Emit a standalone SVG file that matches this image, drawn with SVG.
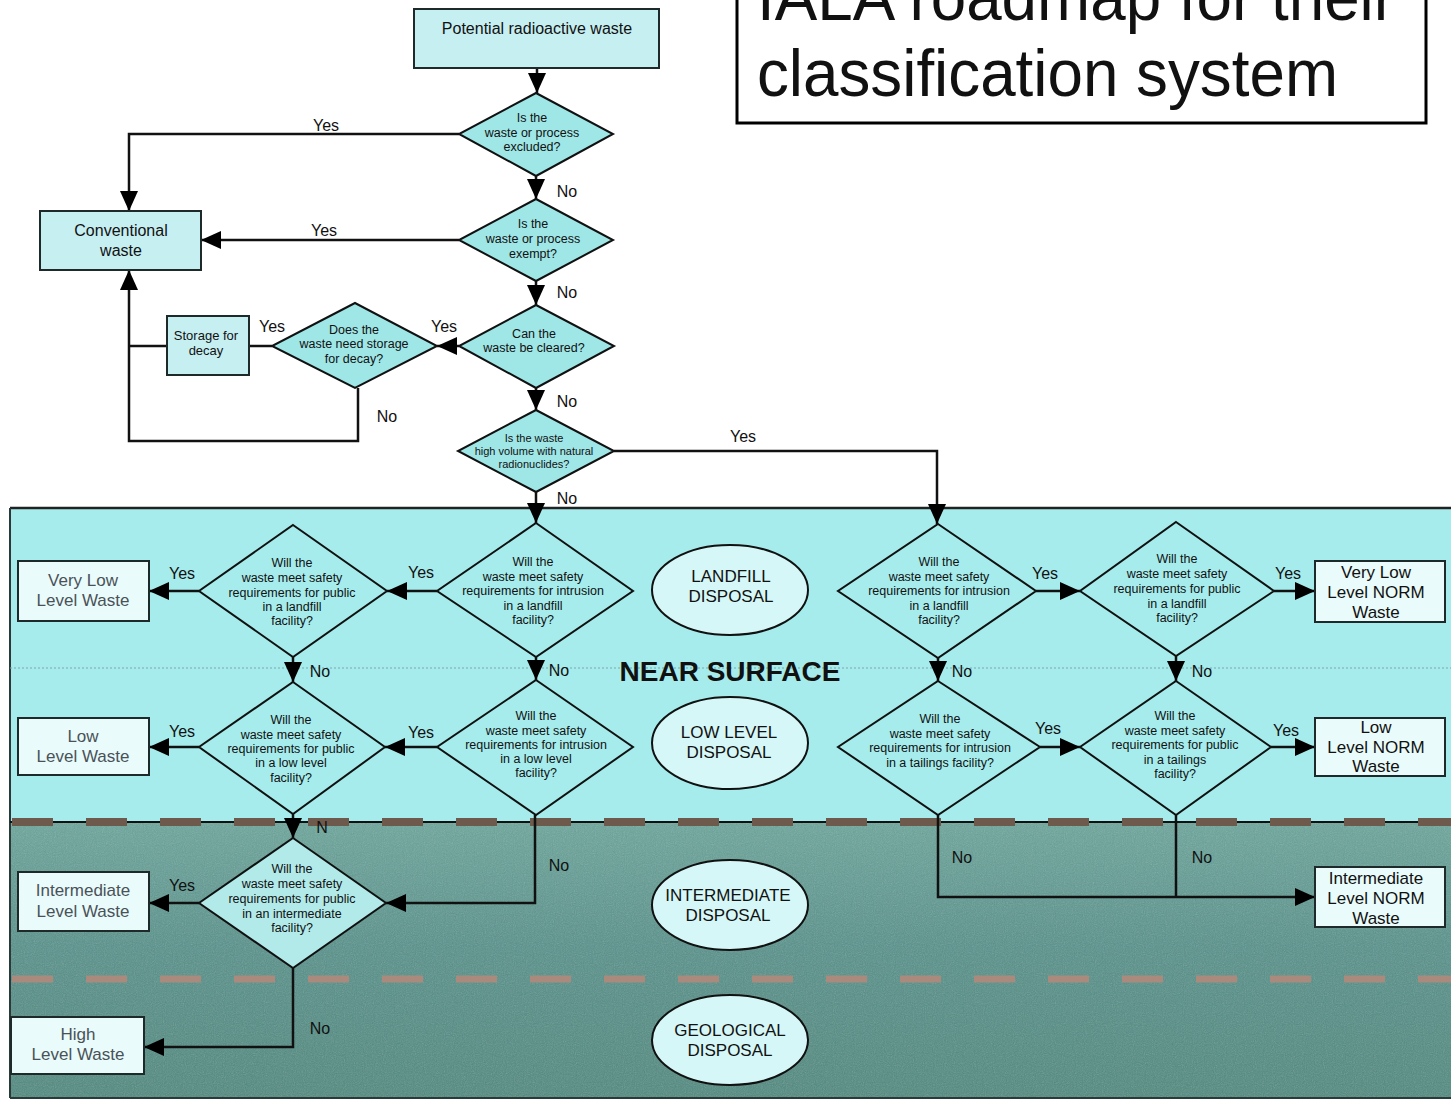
<svg xmlns="http://www.w3.org/2000/svg" width="1451" height="1102" viewBox="0 0 1451 1102">
  <style>
    .box { fill: #c6eff1; stroke: #1e2a2a; stroke-width: 2; }
    .obox { fill: #e9fbfb; stroke: #1e2a2a; stroke-width: 2; }
    .dia { fill: #9fe6e6; stroke: #111; stroke-width: 2; }
    .bdia { fill: none; stroke: #111; stroke-width: 2; }
    .ell { fill: #d6f7f7; stroke: #111; stroke-width: 2; }
    .conn path, .conn line { fill: none; stroke: #111; stroke-width: 2.5; }
    text { font-family: "Liberation Sans", Arial, sans-serif; fill: #111; }
    .q { font-size: 12.5px; text-anchor: middle; }
    .qs { font-size: 11px; text-anchor: middle; }
    .bt { font-size: 16px; text-anchor: middle; }
    .big { font-size: 17px; text-anchor: middle; }
    .grey { fill: #4a5258; }
    .lbl { font-size: 16px; text-anchor: middle; }
  </style>
  <defs>
    <marker id="ah" viewBox="0 0 20 18" refX="20" refY="9" markerWidth="20" markerHeight="18" orient="auto" markerUnits="userSpaceOnUse">
      <path d="M0,0 L20,9 L0,18 z" fill="#000"/>
    </marker>
    <linearGradient id="deep" x1="0" y1="0" x2="0" y2="1">
      <stop offset="0" stop-color="#6aa69b"/>
      <stop offset="0.45" stop-color="#56918a"/>
      <stop offset="1" stop-color="#4f897e"/>
    </linearGradient>
    <filter id="grain" x="0" y="0" width="100%" height="100%">
      <feTurbulence type="fractalNoise" baseFrequency="0.9" numOctaves="2" seed="3" result="n"/>
      <feColorMatrix type="saturate" values="0"/>
      <feComponentTransfer><feFuncA type="linear" slope="0.3"/></feComponentTransfer>
      <feComposite in2="SourceGraphic" operator="in"/>
    </filter>
  </defs>

  <rect width="1451" height="1102" fill="#fff"/>

  <!-- disposal bands -->
  <g id="bands">
    <rect x="10" y="508" width="1441" height="314" fill="#a6ecec"/>
    <rect x="10" y="822" width="1441" height="276" fill="url(#deep)"/>
    <rect x="10" y="822" width="1441" height="276" fill="#fff" filter="url(#grain)"/>
    <line x1="10" y1="508" x2="1451" y2="508" stroke="#222" stroke-width="2.5"/>
    <line x1="10" y1="508" x2="10" y2="1098" stroke="#2a3a38" stroke-width="2"/>
    <line x1="10" y1="1098" x2="1451" y2="1098" stroke="#2a3a38" stroke-width="2"/>
    <line x1="10" y1="668" x2="1451" y2="668" stroke="#7aa8a8" stroke-width="1" stroke-dasharray="2 2"/>
    <line x1="10" y1="822" x2="1451" y2="822" stroke="#111" stroke-width="2"/>
    <line x1="12" y1="822" x2="1451" y2="822" stroke="#6e5a4c" stroke-width="8" stroke-dasharray="41 33"/>
    <line x1="12" y1="979" x2="1451" y2="979" stroke="#a98a7c" stroke-width="7" stroke-dasharray="41 33"/>
    <text x="730" y="681" style="font-size:28px;font-weight:bold;text-anchor:middle">NEAR SURFACE</text>
  </g>

  <!-- heading -->
  <g id="title">
    <rect x="737" y="-10" width="689" height="133" fill="#fff" stroke="#000" stroke-width="3"/>
    <text x="757" y="20" style="font-size:66px" textLength="638" lengthAdjust="spacingAndGlyphs">IALA roadmap for their</text>
    <text x="757" y="96" style="font-size:66px" textLength="581" lengthAdjust="spacingAndGlyphs">classification system</text>
  </g>

  <!-- connectors -->
  <g class="conn">
    <path d="M537,68 V93" marker-end="url(#ah)"/>
    <path d="M459,134 H129 V211" marker-end="url(#ah)"/>
    <path d="M536,176 V199" marker-end="url(#ah)"/>
    <path d="M459,240 H201" marker-end="url(#ah)"/>
    <path d="M536,281 V305" marker-end="url(#ah)"/>
    <path d="M459,346 H437" marker-end="url(#ah)"/>
    <path d="M272,346 H249"/>
    <path d="M167,346 H129"/>
    <path d="M358,388 V441 H129 V270" marker-end="url(#ah)"/>
    <path d="M536,388 V410" marker-end="url(#ah)"/>
    <path d="M614,451 H937 V524" marker-end="url(#ah)"/>
    <path d="M536,492 V523" marker-end="url(#ah)"/>
    <path d="M437,591 H387" marker-end="url(#ah)"/>
    <path d="M199,591 H149" marker-end="url(#ah)"/>
    <path d="M1036,591 H1080" marker-end="url(#ah)"/>
    <path d="M1274,591 H1315" marker-end="url(#ah)"/>
    <path d="M293,657 V682" marker-end="url(#ah)"/>
    <path d="M536,657 V680" marker-end="url(#ah)"/>
    <path d="M938,658 V681" marker-end="url(#ah)"/>
    <path d="M1176,656 V681" marker-end="url(#ah)"/>
    <path d="M437,747 H385" marker-end="url(#ah)"/>
    <path d="M199,747 H149" marker-end="url(#ah)"/>
    <path d="M1040,747 H1080" marker-end="url(#ah)"/>
    <path d="M1271,747 H1315" marker-end="url(#ah)"/>
    <path d="M293,814 V838" marker-end="url(#ah)"/>
    <path d="M535,815 V903 H386" marker-end="url(#ah)"/>
    <path d="M199,903 H149" marker-end="url(#ah)"/>
    <path d="M293,968 V1047 H144" marker-end="url(#ah)"/>
    <path d="M938,815 V897 H1315" marker-end="url(#ah)"/>
    <path d="M1176,815 V897"/>
  </g>

  <!-- connector labels -->
  <g id="labels">
    <text class="lbl" x="326" y="131">Yes</text>
    <text class="lbl" x="324" y="236">Yes</text>
    <text class="lbl" x="567" y="197">No</text>
    <text class="lbl" x="567" y="298">No</text>
    <text class="lbl" x="272" y="332">Yes</text>
    <text class="lbl" x="444" y="332">Yes</text>
    <text class="lbl" x="387" y="422">No</text>
    <text class="lbl" x="567" y="407">No</text>
    <text class="lbl" x="743" y="442">Yes</text>
    <text class="lbl" x="567" y="504">No</text>
    <text class="lbl" x="182" y="579">Yes</text>
    <text class="lbl" x="421" y="578">Yes</text>
    <text class="lbl" x="1045" y="579">Yes</text>
    <text class="lbl" x="1288" y="579">Yes</text>
    <text class="lbl" x="320" y="677">No</text>
    <text class="lbl" x="559" y="676">No</text>
    <text class="lbl" x="962" y="677">No</text>
    <text class="lbl" x="1202" y="677">No</text>
    <text class="lbl" x="182" y="737">Yes</text>
    <text class="lbl" x="421" y="738">Yes</text>
    <text class="lbl" x="1048" y="734">Yes</text>
    <text class="lbl" x="1286" y="736">Yes</text>
    <text class="lbl" x="322" y="833">N</text>
    <text class="lbl" x="559" y="871">No</text>
    <text class="lbl" x="182" y="891">Yes</text>
    <text class="lbl" x="320" y="1034">No</text>
    <text class="lbl" x="962" y="863">No</text>
    <text class="lbl" x="1202" y="863">No</text>
  </g>

  <!-- entry and decision steps above the bands -->
  <g id="potential">
    <rect class="box" x="414" y="9" width="245" height="59"/>
    <text class="bt" x="537" y="34">Potential radioactive waste</text>
  </g>
  <g id="excluded">
    <polygon class="dia" points="536,93 613,134 536,176 459,134"/>
    <text class="q"><tspan x="532" y="122">Is the</tspan><tspan x="532" y="137">waste or process</tspan><tspan x="532" y="151">excluded?</tspan></text>
  </g>
  <g id="conventional">
    <rect class="box" x="40" y="211" width="161" height="59"/>
    <text class="bt"><tspan x="121" y="236">Conventional</tspan><tspan x="121" y="256">waste</tspan></text>
  </g>
  <g id="exempt">
    <polygon class="dia" points="536,199 613,240 536,281 459,240"/>
    <text class="q"><tspan x="533" y="228">Is the</tspan><tspan x="533" y="243">waste or process</tspan><tspan x="533" y="258">exempt?</tspan></text>
  </g>
  <g id="cleared">
    <polygon class="dia" points="536,305 614,346 536,388 459,346"/>
    <text class="q"><tspan x="534" y="338">Can the</tspan><tspan x="534" y="352">waste be cleared?</tspan></text>
  </g>
  <g id="decay-q">
    <polygon class="dia" points="355,303 437,346 355,388 272,346"/>
    <text class="q"><tspan x="354" y="334">Does the</tspan><tspan x="354" y="348">waste need storage</tspan><tspan x="354" y="363">for decay?</tspan></text>
  </g>
  <g id="storage">
    <rect class="box" x="167" y="316" width="82" height="59"/>
    <text style="font-size:13px;text-anchor:middle"><tspan x="206" y="340">Storage for</tspan><tspan x="206" y="355">decay</tspan></text>
  </g>
  <g id="natural">
    <polygon class="dia" points="536,410 614,451 536,492 458,451"/>
    <text class="qs"><tspan x="534" y="442">Is the waste</tspan><tspan x="534" y="455">high volume with natural</tspan><tspan x="534" y="468">radionuclides?</tspan></text>
  </g>

  <!-- near surface decisions -->
  <g id="public-landfill">
    <polygon class="bdia" points="293,525 387,591 293,657 199,591"/>
    <text class="q"><tspan x="292" y="567">Will the</tspan><tspan x="292" y="582">waste meet safety</tspan><tspan x="292" y="597">requirements for public</tspan><tspan x="292" y="611">in a landfill</tspan><tspan x="292" y="625">facility?</tspan></text>
  </g>
  <g id="intrusion-landfill">
    <polygon class="bdia" points="536,523 633,591 536,657 437,591"/>
    <text class="q"><tspan x="533" y="566">Will the</tspan><tspan x="533" y="581">waste meet safety</tspan><tspan x="533" y="595">requirements for intrusion</tspan><tspan x="533" y="610">in a landfill</tspan><tspan x="533" y="624">facility?</tspan></text>
  </g>
  <g id="landfill-disposal">
    <ellipse class="ell" cx="730" cy="590" rx="78" ry="45"/>
    <text class="big"><tspan x="731" y="582">LANDFILL</tspan><tspan x="731" y="602">DISPOSAL</tspan></text>
  </g>
  <g id="norm-intrusion-landfill">
    <polygon class="bdia" points="938,524 1036,591 938,658 838,591"/>
    <text class="q"><tspan x="939" y="566">Will the</tspan><tspan x="939" y="581">waste meet safety</tspan><tspan x="939" y="595">requirements for intrusion</tspan><tspan x="939" y="610">in a landfill</tspan><tspan x="939" y="624">facility?</tspan></text>
  </g>
  <g id="norm-public-landfill">
    <polygon class="bdia" points="1176,522 1274,591 1176,656 1080,591"/>
    <text class="q"><tspan x="1177" y="563">Will the</tspan><tspan x="1177" y="578">waste meet safety</tspan><tspan x="1177" y="593">requirements for public</tspan><tspan x="1177" y="608">in a landfill</tspan><tspan x="1177" y="622">facility?</tspan></text>
  </g>
  <g id="vllw">
    <rect class="obox" x="18" y="561" width="131" height="60"/>
    <text class="big grey"><tspan x="83" y="586">Very Low</tspan><tspan x="83" y="606">Level Waste</tspan></text>
  </g>
  <g id="vll-norm">
    <rect class="obox" x="1315" y="561" width="130" height="61"/>
    <text class="big"><tspan x="1376" y="578">Very Low</tspan><tspan x="1376" y="598">Level NORM</tspan><tspan x="1376" y="618">Waste</tspan></text>
  </g>

  <g id="public-low">
    <polygon class="bdia" points="293,682 385,747 293,814 199,747"/>
    <text class="q"><tspan x="291" y="724">Will the</tspan><tspan x="291" y="739">waste meet safety</tspan><tspan x="291" y="753">requirements for public</tspan><tspan x="291" y="767">in a low level</tspan><tspan x="291" y="782">facility?</tspan></text>
  </g>
  <g id="intrusion-low">
    <polygon class="bdia" points="536,680 633,747 536,815 437,747"/>
    <text class="q"><tspan x="536" y="720">Will the</tspan><tspan x="536" y="735">waste meet safety</tspan><tspan x="536" y="749">requirements for intrusion</tspan><tspan x="536" y="763">in a low level</tspan><tspan x="536" y="777">facility?</tspan></text>
  </g>
  <g id="low-level-disposal">
    <ellipse class="ell" cx="730" cy="743" rx="78" ry="46"/>
    <text class="big"><tspan x="729" y="738">LOW LEVEL</tspan><tspan x="729" y="758">DISPOSAL</tspan></text>
  </g>
  <g id="norm-intrusion-tailings">
    <polygon class="bdia" points="938,681 1040,747 938,815 838,747"/>
    <text class="q"><tspan x="940" y="723">Will the</tspan><tspan x="940" y="738">waste meet safety</tspan><tspan x="940" y="752">requirements for intrusion</tspan><tspan x="940" y="767">in a tailings facility?</tspan></text>
  </g>
  <g id="norm-public-tailings">
    <polygon class="bdia" points="1176,681 1271,747 1176,815 1080,747"/>
    <text class="q"><tspan x="1175" y="720">Will the</tspan><tspan x="1175" y="735">waste meet safety</tspan><tspan x="1175" y="749">requirements for public</tspan><tspan x="1175" y="764">in a tailings</tspan><tspan x="1175" y="778">facility?</tspan></text>
  </g>
  <g id="llw">
    <rect class="obox" x="18" y="718" width="131" height="57"/>
    <text class="big grey"><tspan x="83" y="742">Low</tspan><tspan x="83" y="762">Level Waste</tspan></text>
  </g>
  <g id="ll-norm">
    <rect class="obox" x="1315" y="718" width="130" height="58"/>
    <text class="big"><tspan x="1376" y="733">Low</tspan><tspan x="1376" y="753">Level NORM</tspan><tspan x="1376" y="772">Waste</tspan></text>
  </g>

  <!-- deeper disposal -->
  <g id="public-intermediate">
    <polygon class="dia" points="293,838 386,903 293,968 199,903" style="fill:#b2eaea"/>
    <text class="q"><tspan x="292" y="873">Will the</tspan><tspan x="292" y="888">waste meet safety</tspan><tspan x="292" y="903">requirements for public</tspan><tspan x="292" y="918">in an intermediate</tspan><tspan x="292" y="932">facility?</tspan></text>
  </g>
  <g id="ilw">
    <rect class="obox" x="18" y="872" width="131" height="59"/>
    <text class="big grey"><tspan x="83" y="896">Intermediate</tspan><tspan x="83" y="917">Level Waste</tspan></text>
  </g>
  <g id="hlw">
    <rect class="obox" x="11" y="1017" width="133" height="57"/>
    <text class="big grey"><tspan x="78" y="1040">High</tspan><tspan x="78" y="1060">Level Waste</tspan></text>
  </g>
  <g id="il-norm">
    <rect class="obox" x="1315" y="867" width="130" height="60"/>
    <text class="big"><tspan x="1376" y="884">Intermediate</tspan><tspan x="1376" y="904">Level NORM</tspan><tspan x="1376" y="924">Waste</tspan></text>
  </g>
  <g id="intermediate-disposal">
    <ellipse class="ell" cx="730" cy="905" rx="78" ry="45"/>
    <text class="big"><tspan x="728" y="901">INTERMEDIATE</tspan><tspan x="728" y="921">DISPOSAL</tspan></text>
  </g>
  <g id="geological-disposal">
    <ellipse class="ell" cx="730" cy="1040" rx="78" ry="45"/>
    <text class="big"><tspan x="730" y="1036">GEOLOGICAL</tspan><tspan x="730" y="1056">DISPOSAL</tspan></text>
  </g>
</svg>
